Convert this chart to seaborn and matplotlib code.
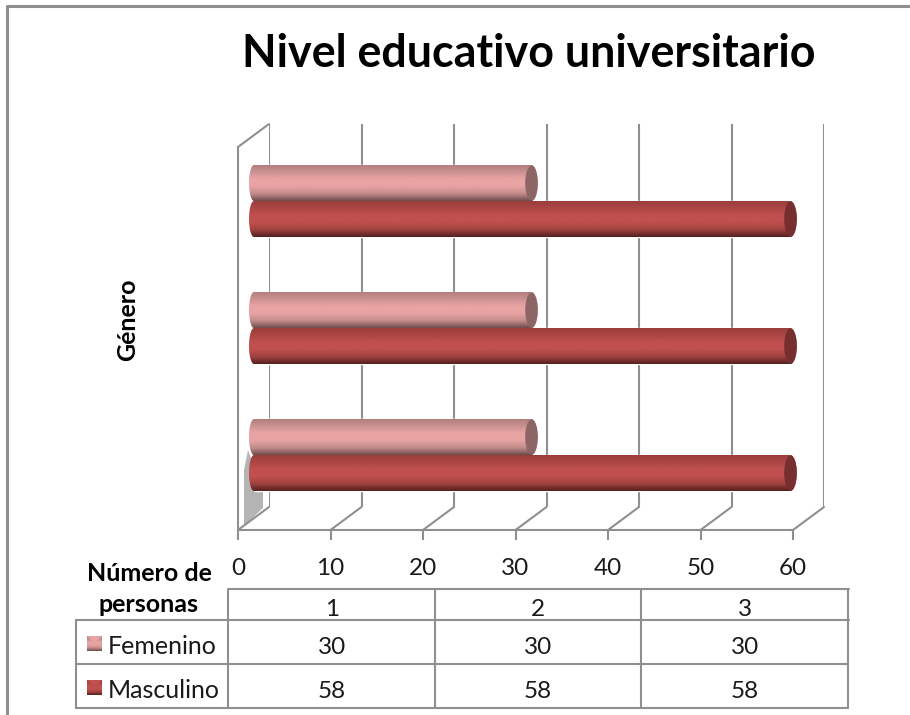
import numpy as np
import pandas as pd
import matplotlib
matplotlib.use("Agg")
import matplotlib.pyplot as plt
import seaborn as sns
from matplotlib.colors import LinearSegmentedColormap
from matplotlib.path import Path

categorias = ["1", "2", "3"]
femenino = [30, 30, 30]
masculino = [58, 58, 58]
series = ["Femenino", "Masculino"]
ticks_x = [0, 10, 20, 30, 40, 50, 60]

titulo = "Nivel educativo universitario"
etiqueta_y = "Género"
etiqueta_x = "Número de\npersonas"

W, H = 910, 715
GRIS = "#8f8f8f"
LW = 1.5
TXT = 17.5

colores = {"Femenino": "#e6a0a0", "Masculino": "#c0504d"}
rampas = {
    "Femenino": ["#b07c7c", "#c99090", "#e9a3a3", "#e9a3a3", "#c48c8c", "#6f4d4d"],
    "Masculino": ["#983c3a", "#aa4643", "#c0504d", "#c0504d", "#a04240", "#552020"],
}
tapas = {"Femenino": "#8c6666", "Masculino": "#762f2e"}

sns.set_theme(style="white")
plt.rcParams["font.family"] = ["Lato", "DejaVu Sans"]


def caja(x0, y_top, x1, y_bottom):
    # axes rectangle given in image pixels
    return [x0 / W, 1 - y_bottom / H, (x1 - x0) / W, (y_bottom - y_top) / H]


df = pd.DataFrame({
    "categoria": categorias * 2,
    "valor": femenino + masculino,
    "serie": [series[0]] * 3 + [series[1]] * 3,
})

fig = plt.figure(figsize=(W / 100, H / 100), dpi=100, facecolor="white")

# overlay in pixels for frame, floor and table
ax_px = fig.add_axes([0, 0, 1, 1], zorder=1)
ax_px.set_xlim(0, W)
ax_px.set_ylim(H, 0)
ax_px.axis("off")

# back wall
ax_back = fig.add_axes(caja(269, 124, 824, 507), zorder=2)
ax_back.patch.set_alpha(0)
ax_back.set_xlim(0, 60)
ax_back.set_yticks([])
ax_back.set_xticks(ticks_x)
ax_back.tick_params(labelbottom=False, length=0)
ax_back.grid(axis="x", color=GRIS, linewidth=LW)
sns.despine(ax=ax_back, left=True, bottom=True)

# front axis with the tick labels
ax_front = fig.add_axes(caja(238, 147, 793, 530), zorder=3)
ax_front.patch.set_alpha(0)
ax_front.set_xlim(0, 60)
ax_front.set_yticks([])
ax_front.set_xticks(ticks_x)
ax_front.tick_params(axis="x", length=7, width=LW, color=GRIS, pad=13,
                     labelsize=TXT, labelcolor="#1a1a1a", bottom=True)
sns.despine(ax=ax_front, top=True, right=True)
for lado in ["left", "bottom"]:
    ax_front.spines[lado].set_color(GRIS)
    ax_front.spines[lado].set_linewidth(LW)

# floor diagonals, wall top and the grey shadow
for t in ticks_x:
    x_front = 238 + t / 60 * 555
    ax_px.plot([x_front, x_front + 31], [530, 507], color=GRIS, lw=LW)
ax_px.plot([238, 269], [147, 124], color=GRIS, lw=LW)
ax_px.fill([244, 244, 248, 263, 263], [526, 470, 450, 490, 508],
           color="#b4b4b4", lw=0)

# bars
ax_bar = fig.add_axes(caja(254, 137.5, 809, 518.5), zorder=4)
ax_bar.patch.set_alpha(0)
sns.barplot(data=df, y="categoria", x="valor", hue="serie", order=categorias[::-1],
            hue_order=series, palette=colores, width=0.567, gap=0, dodge=True,
            legend=False, ax=ax_bar)
ax_bar.set_xlim(0, 60)
ax_bar.set_ylim(2.5, -0.5)
ax_bar.axis("off")

rx_izq = 5 / 9.25
rx_der = 6.3 / 9.25
ang = np.linspace(-np.pi / 2, np.pi / 2, 40)
nombres = [series[0]] * 3 + [series[1]] * 3
for patch, nombre in zip(ax_bar.patches, nombres):
    x0, y0 = patch.get_x(), patch.get_y()
    x1, alto = x0 + patch.get_width(), patch.get_height()
    yc, ry = y0 + alto / 2, alto / 2
    der = np.column_stack([x1 + rx_der * np.cos(ang), yc + ry * np.sin(ang)])
    izq = np.column_stack([x0 - rx_izq * np.cos(ang[::-1]), yc + ry * np.sin(ang[::-1])])
    forma = np.vstack([der, izq, der[:1]])
    cmap = LinearSegmentedColormap.from_list(nombre, rampas[nombre])
    img = ax_bar.imshow(np.linspace(0, 1, 128).reshape(-1, 1), cmap=cmap, aspect="auto",
                        extent=(x0 - 1, x1 + 1, y0 + alto, y0), zorder=3,
                        interpolation="bilinear")
    img.set_clip_box(fig.bbox)
    img.set_clip_path(Path(forma), ax_bar.transData)
    # end cap
    t = np.linspace(0, 2 * np.pi, 60)
    ax_bar.fill(x1 + rx_der * np.cos(t), yc + ry * 0.97 * np.sin(t), color=tapas[nombre],
                lw=0, zorder=4)
ax_bar.set_xlim(0, 60)
ax_bar.set_ylim(2.5, -0.5)

# frame
ax_px.plot([7, 7, W], [H, 6, 6], color=GRIS, lw=2.2)

# table
for y, x0, x1 in [(589, 229, 849), (620, 76, 849), (664, 76, 848), (708, 76, 848)]:
    ax_px.plot([x0, x1], [y, y], color=GRIS, lw=LW)
for x, y0, y1 in [(76, 620, 708), (228, 589, 708), (435, 589, 708), (641, 589, 708), (848, 589, 708)]:
    ax_px.plot([x, x], [y0, y1], color=GRIS, lw=LW)

cols_x = [332, 538, 745]
filas_y = [645, 689]
for x, c, f, m in zip(cols_x, categorias, femenino, masculino):
    ax_px.text(x, 609, c, ha="center", va="center", fontsize=TXT, color="#1a1a1a")
    ax_px.text(x, filas_y[0] + 2, str(f), ha="center", va="center", fontsize=TXT, color="#1a1a1a")
    ax_px.text(x, filas_y[1] + 2, str(m), ha="center", va="center", fontsize=TXT, color="#1a1a1a")

for nombre, y in zip(series, filas_y):
    ax_px.text(108, y + 1, nombre, ha="left", va="center", fontsize=18, color="#1a1a1a")
    s = ax_px.imshow(np.linspace(0, 1, 32).reshape(-1, 1), aspect="auto",
                     cmap=LinearSegmentedColormap.from_list(nombre + "_s", rampas[nombre]),
                     extent=(87, 102, y + 6, y - 9))
    ax_px.fill([87, 102, 94.5], [y - 9, y - 9, y - 2], color=rampas[nombre][2], lw=0)
ax_px.set_xlim(0, W)
ax_px.set_ylim(H, 0)

# texts
ax_px.text(529, 54, titulo, ha="center", va="center", fontsize=32.3, fontweight="bold", color="black")
ax_px.text(128, 320, etiqueta_y, rotation=90, ha="center", va="center", fontsize=18, fontweight="bold", color="black")
ax_px.text(149, 589, etiqueta_x, ha="center", va="center", fontsize=18, fontweight="bold",
           color="black", linespacing=1.4)

fig.savefig("out.png", dpi=100)
